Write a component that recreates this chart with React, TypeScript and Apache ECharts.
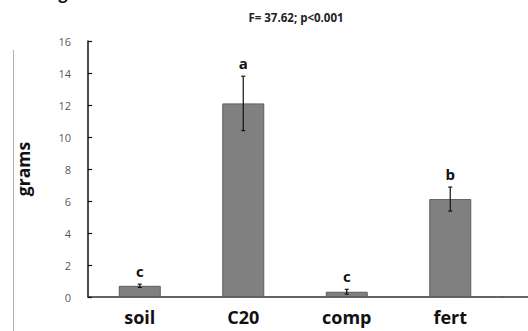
import React, { useEffect, useRef } from "react";
import * as echarts from "echarts";

const categories = ["soil", "C20", "comp", "fert"];
const means = [0.7, 12.1, 0.33, 6.12];
const errors = [0.1, 1.7, 0.15, 0.75];
const letters = ["c", "a", "c", "b"];
const yTicks = { min: 0, max: 16, interval: 2 };
const title = "F= 37.62; p<0.001";
const yName = "grams";

export default function App() {
  const ref = useRef<HTMLDivElement>(null);
  useEffect(() => {
    const chart = echarts.init(ref.current!, null, { renderer: "svg" });
    const font = "'Open Sans', 'Noto Sans', sans-serif";
    chart.setOption({
      animation: false,
      backgroundColor: "#ffffff",
      title: {
        text: title,
        left: 291,
        top: 6,
        textAlign: "center",
        textStyle: { fontFamily: font, fontSize: 11.5, fontWeight: "bold", color: "#222" },
      },
      grid: { left: 88, right: 26, top: 41, bottom: 34, containLabel: false },
      xAxis: {
        type: "category",
        data: categories,
        axisLine: { lineStyle: { color: "#333", width: 1.5 } },
        axisTick: { show: false },
        axisLabel: {
          fontFamily: font,
          fontSize: 18,
          fontWeight: "bold",
          color: "#111",
          margin: 11,
        },
      },
      yAxis: {
        type: "value",
        min: yTicks.min,
        max: yTicks.max,
        interval: yTicks.interval,
        name: yName,
        nameLocation: "middle",
        nameGap: 56,
        nameTextStyle: { fontFamily: font, fontSize: 17.5, fontWeight: "bold", color: "#111" },
        axisLine: { show: true, lineStyle: { color: "#111", width: 1.5 } },
        axisTick: { show: true, inside: true, length: 4, lineStyle: { color: "#111", width: 1.2 } },
        splitLine: { show: false },
        axisLabel: { fontFamily: font, fontSize: 11, color: "#595959", margin: 17 },
      },
      series: [
        {
          type: "bar",
          data: means,
          barWidth: 42,
          itemStyle: { color: "#808080", borderColor: "#5e5e5e", borderWidth: 1 },
        },
        {
          type: "custom",
          data: means.map((m, i) => [i, m, errors[i]]),
          renderItem: (params: any, api: any) => {
            const i = api.value(0);
            const m = api.value(1);
            const e = api.value(2);
            const top = api.coord([i, m + e]);
            const bot = api.coord([i, m - e]);
            const cap = 2;
            const style = { stroke: "#111", lineWidth: 1.2 };
            return {
              type: "group",
              children: [
                { type: "line", shape: { x1: top[0], y1: top[1], x2: bot[0], y2: bot[1] }, style },
                { type: "line", shape: { x1: top[0] - cap, y1: top[1], x2: top[0] + cap, y2: top[1] }, style },
                { type: "line", shape: { x1: bot[0] - cap, y1: bot[1], x2: bot[0] + cap, y2: bot[1] }, style },
                {
                  type: "text",
                  x: top[0],
                  y: top[1] - 13,
                  style: {
                    text: letters[params.dataIndex],
                    fontFamily: font,
                    fontSize: 15,
                    fontWeight: "bold",
                    fill: "#111",
                    align: "center",
                    verticalAlign: "middle",
                  },
                },
              ],
            };
          },
          z: 5,
        },
      ],
      graphic: [
        { type: "line", shape: { x1: 502, y1: 297, x2: 528, y2: 297 }, style: { stroke: "#333", lineWidth: 1.5 } },
        { type: "line", shape: { x1: 13.5, y1: 50, x2: 13.5, y2: 331 }, style: { stroke: "#b0b0b0", lineWidth: 1 } },
        {
          type: "text",
          x: 63,
          y: -15,
          style: { text: "g", fontFamily: font, fontSize: 16, fontWeight: "bold", fill: "#111", align: "center" },
        },
      ],
    });
    return () => chart.dispose();
  }, []);
  return (
    <div
      ref={ref}
      style={{ position: "absolute", left: 0, top: 0, width: 528, height: 331 }}
    />
  );
}
